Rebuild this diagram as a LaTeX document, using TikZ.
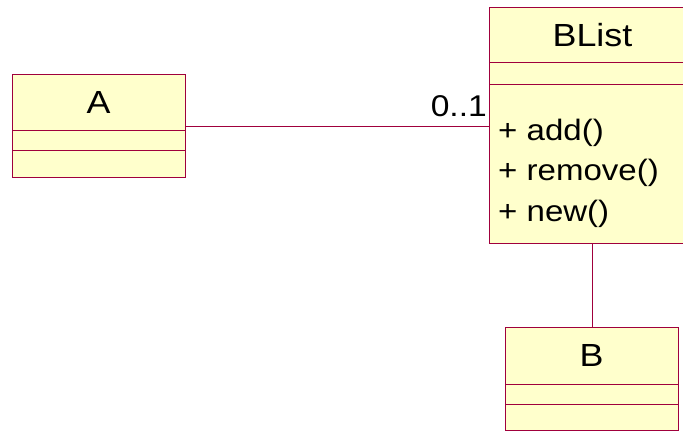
\documentclass[tikz,border=0pt]{standalone}
\usepackage{fontspec}
\setmainfont[FakeStretch=1.12]{Liberation Sans}
\usetikzlibrary{positioning}
\definecolor{umlborder}{RGB}{160,0,60}
\definecolor{umlfill}{RGB}{255,255,204}

\begin{document}
\begin{tikzpicture}[x=1pt, y=-1pt,
    classname/.style={rectangle, draw=umlborder, fill=umlfill, line width=1pt,
        outer sep=0pt, inner sep=0pt, font=\fontsize{32}{38}\selectfont},
    compartment/.style={rectangle, draw=umlborder, fill=umlfill, line width=1pt,
        outer sep=0pt, inner sep=0pt},
    member/.style={anchor=base west, inner sep=0pt,
        font=\fontsize{29.5}{36}\selectfont},
    assoc/.style={draw=umlborder, line width=1pt, -}
]
    \useasboundingbox (0,0) rectangle (683,431);
    \clip (0,0) rectangle (683,431);
    % class A
    \node[classname, minimum width=173pt, minimum height=56pt] (a-name) at (98.5,102) {A};
    \node[compartment, minimum width=173pt, minimum height=20.5pt, below=0pt of a-name] (a-attr) {};
    \node[compartment, minimum width=173pt, minimum height=26.5pt, below=0pt of a-attr] (a-ops) {};
    % class BList
    \node[classname, minimum width=206pt, minimum height=54.3pt] (bl-name) at (592.5,34.9) {BList};
    \node[compartment, minimum width=206pt, minimum height=22pt, below=0pt of bl-name] (bl-attr) {};
    \node[compartment, minimum width=206pt, minimum height=159pt, below=0pt of bl-attr] (bl-ops) {};
    \foreach \op [count=\i] in {add(), remove(), new()}
        \node[member] (op-\i) at (498, 99.5+40.5*\i) {+ \op};
    % class B
    \node[classname, minimum width=173pt, minimum height=56.7pt] (b-name) at (591.5,355.7) {B};
    \node[compartment, minimum width=173pt, minimum height=20.3pt, below=0pt of b-name] (b-attr) {};
    \node[compartment, minimum width=173pt, minimum height=25.7pt, below=0pt of b-attr] (b-ops) {};
    % associations
    \draw[assoc] ([yshift=-24.5pt]a-name.east) -- ([yshift=-24.5pt]a-name.east -| bl-name.west);
    \node[member, anchor=base east, font=\fontsize{30}{36}\selectfont] (mult) at (487,116.7) {0..1};
    \draw[assoc] (bl-ops.south) -- (bl-ops.south |- b-name.north);
\end{tikzpicture}
\end{document}
